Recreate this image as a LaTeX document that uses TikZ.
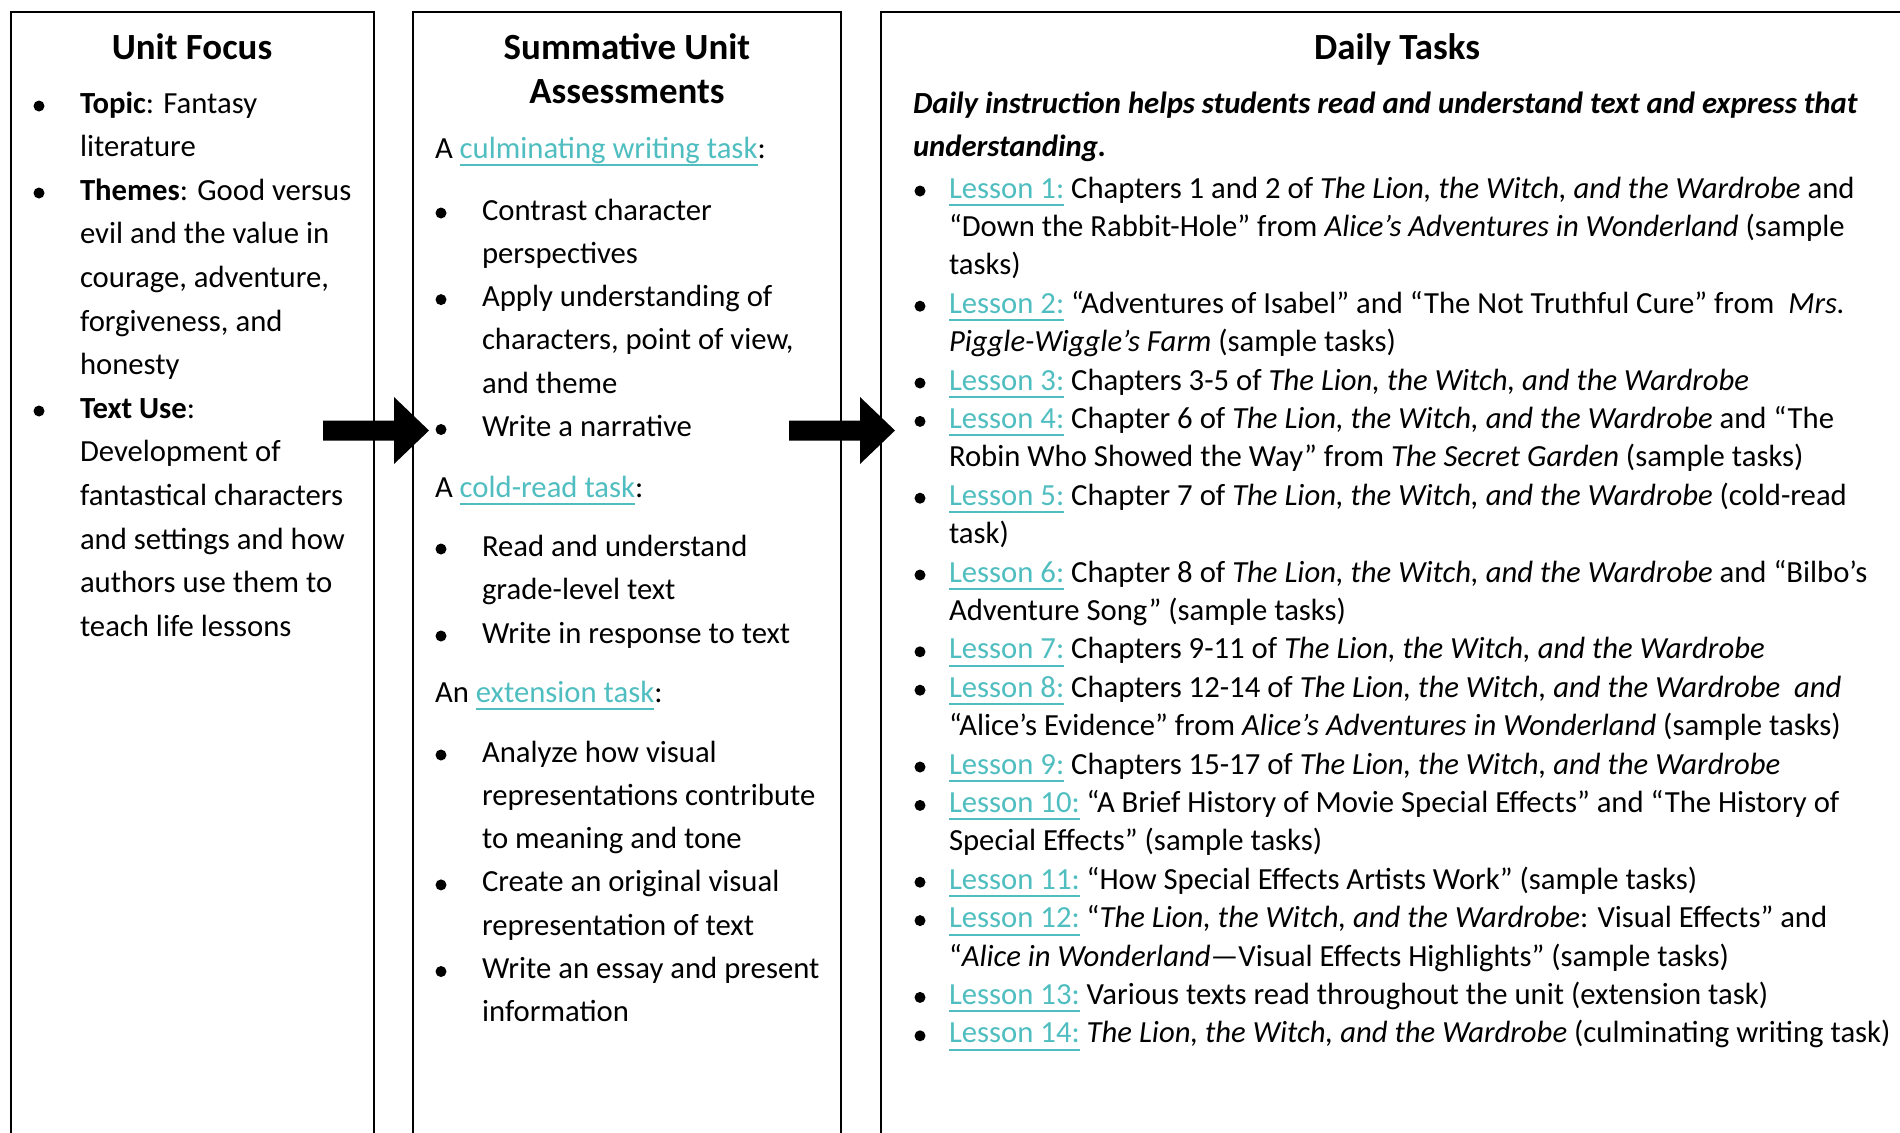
\documentclass[tikz,border=0pt]{standalone}
\usepackage{fontspec}
\setmainfont{Carlito}
\definecolor{linkc}{RGB}{80,190,192}
\newsavebox\lnkbox
\newcommand\lnk[1]{\sbox\lnkbox{\color{linkc}#1}{\color{linkc}\usebox\lnkbox\llap{\rule[-4pt]{\wd\lnkbox}{1pt}}}}
\newcommand\bodyf{\fontsize{15.35pt}{18pt}\selectfont}
\newcommand\titlef{\fontsize{18.45pt}{22pt}\selectfont\bfseries}
\newcommand\TLW{\textit{The Lion, the Witch, and the Wardrobe}}
\begin{document}
\begin{tikzpicture}[x=0.5pt,y=-0.5pt,
  txt/.style={anchor=base west,inner sep=0pt,outer sep=0pt,font=\bodyf},
  ttl/.style={anchor=base,inner sep=0pt,outer sep=0pt,font=\titlef},
  bul/.style={circle,fill=black,inner sep=0pt,minimum size=5.5pt},
  boxline/.style={draw=black,line width=1pt},
  blockarrow/.style={fill=black}]
\useasboundingbox (0,0) rectangle (1900,1132);
\clip (0,0) rectangle (1900,1132);
\fill[white] (0,0) rectangle (1900,1132);

% column frames (open at the bottom, third one open at the right)
\coordinate (f1a) at (11,1140); \coordinate (f1b) at (11,12);
\coordinate (f1c) at (374,12);  \coordinate (f1d) at (374,1140);
\draw[boxline] (f1a) -- (f1b) -- (f1c) -- (f1d);
\coordinate (f2a) at (413,1140); \coordinate (f2b) at (413,12);
\coordinate (f2c) at (841,12);   \coordinate (f2d) at (841,1140);
\draw[boxline] (f2a) -- (f2b) -- (f2c) -- (f2d);
\coordinate (f3a) at (881,1140); \coordinate (f3b) at (881,12);
\coordinate (f3c) at (1910,12);
\draw[boxline] (f3a) -- (f3b) -- (f3c);

% block arrows
\fill[blockarrow] (323,420.5) -- (394,420.5) -- (394,397) -- (429,430.5) -- (394,464) -- (394,440.5) -- (323,440.5) -- cycle;
\fill[blockarrow] (789,420.5) -- (860,420.5) -- (860,397) -- (895,430.5) -- (860,464) -- (860,440.5) -- (789,440.5) -- cycle;

% ---------------- Unit Focus ----------------
\node[ttl] (t1) at (192,59) {Unit Focus};
\node[bul] (ub1) at (39,106) {};
\node[txt] (u1) at (80,113) {\textbf{Topic}: Fantasy};
\node[txt] (u2) at (80,156.6) {literature};
\node[bul] (ub2) at (39,193) {};
\node[txt] (u3) at (80,200.2) {\textbf{Themes}: Good versus};
\node[txt] (u4) at (80,243.8) {evil and the value in};
\node[txt] (u5) at (80,287.4) {courage, adventure,};
\node[txt] (u6) at (80,331) {forgiveness, and};
\node[txt] (u7) at (80,374.6) {honesty};
\node[bul] (ub3) at (39,411) {};
\node[txt] (u8) at (80,418.2) {\textbf{Text Use}:};
\node[txt] (u9) at (80,461.8) {Development of};
\node[txt] (u10) at (80,505.4) {fantastical characters};
\node[txt] (u11) at (80,549) {and settings and how};
\node[txt] (u12) at (80,592.6) {authors use them to};
\node[txt] (u13) at (80,636.2) {teach life lessons};

% ---------------- Summative Unit Assessments ----------------
\node[ttl] (t2a) at (627,59) {Summative Unit};
\node[ttl] (t2b) at (627,103) {Assessments};
\node[txt] (s0) at (435,158) {A \lnk{culminating writing task}:};
\node[bul] (sb1) at (441,213) {};
\node[txt] (s1) at (482,220) {Contrast character};
\node[txt] (s2) at (482,263.3) {perspectives};
\node[bul] (sb2) at (441,299.6) {};
\node[txt] (s3) at (482,306.6) {Apply understanding of};
\node[txt] (s4) at (482,349.9) {characters, point of view,};
\node[txt] (s5) at (482,393.2) {and theme};
\node[bul] (sb3) at (441,429.5) {};
\node[txt] (s6) at (482,436.5) {Write a narrative};
\node[txt] (s7) at (435,497) {A \lnk{cold-read task}:};
\node[bul] (sb4) at (441,549) {};
\node[txt] (s8) at (482,556) {Read and understand};
\node[txt] (s9) at (482,599.5) {grade-level text};
\node[bul] (sb5) at (441,636) {};
\node[txt] (s10) at (482,643) {Write in response to text};
\node[txt] (s11) at (435,702) {An \lnk{extension task}:};
\node[bul] (sb6) at (441,755) {};
\node[txt] (s12) at (482,762) {Analyze how visual};
\node[txt] (s13) at (482,805.3) {representations contribute};
\node[txt] (s14) at (482,848.6) {to meaning and tone};
\node[bul] (sb7) at (441,884.9) {};
\node[txt] (s15) at (482,891.9) {Create an original visual};
\node[txt] (s16) at (482,935.2) {representation of text};
\node[bul] (sb8) at (441,971.5) {};
\node[txt] (s17) at (482,978.5) {Write an essay and present};
\node[txt] (s18) at (482,1021.8) {information};

% ---------------- Daily Tasks ----------------
\node[ttl] (t3) at (1397,59) {Daily Tasks};
\node[txt] (d0a) at (913,113) {\textbf{\textit{Daily instruction helps students read and understand text and express that}}};
\node[txt] (d0b) at (913,156) {\textbf{\textit{understanding.}}};

\node[bul] (db1) at (920,198-7) {};
\node[txt] (d1) at (949,198) {\lnk{Lesson 1:} Chapters 1 and 2 of \TLW{} and};
\node[txt] (d2) at (949,198+38.4*1) {“Down the Rabbit-Hole” from \textit{Alice’s Adventures in Wonderland} (sample};
\node[txt] (d3) at (949,198+38.4*2) {tasks)};
\node[bul] (db2) at (920,198+38.4*3-7) {};
\node[txt] (d4) at (949,198+38.4*3) {\lnk{Lesson 2:} “Adventures of Isabel” and “The Not Truthful Cure” from \ \textit{Mrs.}};
\node[txt] (d5) at (949,198+38.4*4) {\textit{Piggle-Wiggle’s Farm} (sample tasks)};
\node[bul] (db3) at (920,198+38.4*5-7) {};
\node[txt] (d6) at (949,198+38.4*5) {\lnk{Lesson 3:} Chapters 3-5 of \TLW};
\node[bul] (db4) at (920,198+38.4*6-7) {};
\node[txt] (d7) at (949,198+38.4*6) {\lnk{Lesson 4:} Chapter 6 of \TLW{} and “The};
\node[txt] (d8) at (949,198+38.4*7) {Robin Who Showed the Way” from \textit{The Secret Garden} (sample tasks)};
\node[bul] (db5) at (920,198+38.4*8-7) {};
\node[txt] (d9) at (949,198+38.4*8) {\lnk{Lesson 5:} Chapter 7 of \TLW{} (cold-read};
\node[txt] (d10) at (949,198+38.4*9) {task)};
\node[bul] (db6) at (920,198+38.4*10-7) {};
\node[txt] (d11) at (949,198+38.4*10) {\lnk{Lesson 6:} Chapter 8 of \TLW{} and “Bilbo’s};
\node[txt] (d12) at (949,198+38.4*11) {Adventure Song” (sample tasks)};
\node[bul] (db7) at (920,198+38.4*12-7) {};
\node[txt] (d13) at (949,198+38.4*12) {\lnk{Lesson 7:} Chapters 9-11 of \TLW};
\node[bul] (db8) at (920,198+38.4*13-7) {};
\node[txt] (d14) at (949,198+38.4*13) {\lnk{Lesson 8:} Chapters 12-14 of \textit{The Lion, the Witch, and the Wardrobe \ and}};
\node[txt] (d15) at (949,198+38.4*14) {“Alice’s Evidence” from \textit{Alice’s Adventures in Wonderland} (sample tasks)};
\node[bul] (db9) at (920,198+38.4*15-7) {};
\node[txt] (d16) at (949,198+38.4*15) {\lnk{Lesson 9:} Chapters 15-17 of \TLW};
\node[bul] (db10) at (920,198+38.4*16-7) {};
\node[txt] (d17) at (949,198+38.4*16) {\lnk{Lesson 10:} “A Brief History of Movie Special Effects” and “The History of};
\node[txt] (d18) at (949,198+38.4*17) {Special Effects” (sample tasks)};
\node[bul] (db11) at (920,198+38.4*18-7) {};
\node[txt] (d19) at (949,198+38.4*18) {\lnk{Lesson 11:} “How Special Effects Artists Work” (sample tasks)};
\node[bul] (db12) at (920,198+38.4*19-7) {};
\node[txt] (d20) at (949,198+38.4*19) {\lnk{Lesson 12:} “\TLW: Visual Effects” and};
\node[txt] (d21) at (949,198+38.4*20) {“\textit{Alice in Wonderland}—Visual Effects Highlights” (sample tasks)};
\node[bul] (db13) at (920,198+38.4*21-7) {};
\node[txt] (d22) at (949,198+38.4*21) {\lnk{Lesson 13:} Various texts read throughout the unit (extension task)};
\node[bul] (db14) at (920,198+38.4*22-7) {};
\node[txt] (d23) at (949,198+38.4*22) {\lnk{Lesson 14:} \TLW{} (culminating writing task)};
\end{tikzpicture}
\end{document}
